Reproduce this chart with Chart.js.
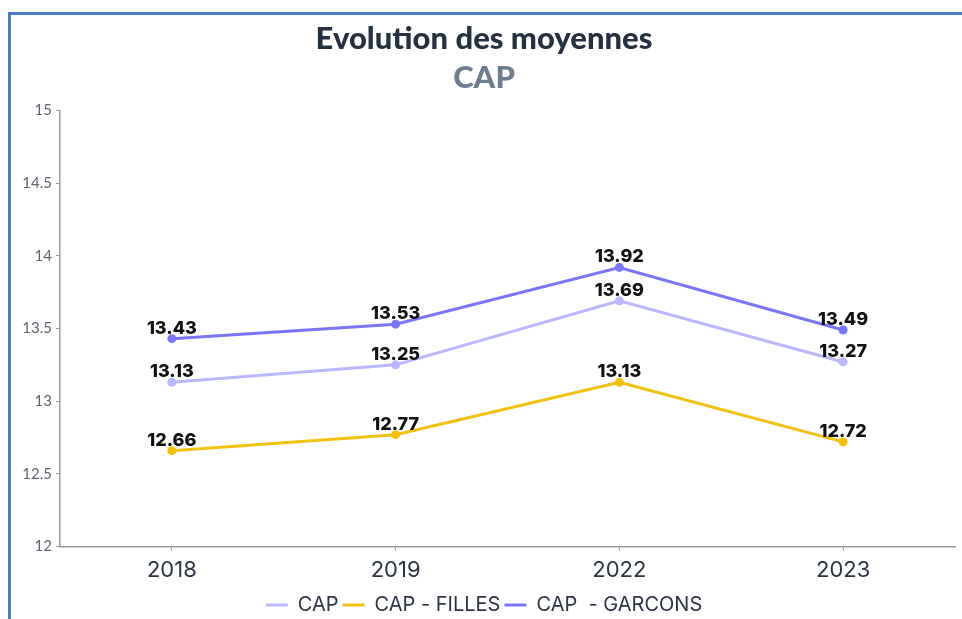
<!DOCTYPE html>
<html>
<head>
<meta charset="utf-8">
<script src="https://cdn.jsdelivr.net/npm/chart.js@4"></script>
<style>
  html,body{margin:0;padding:0;background:#fff;overflow:hidden;}
  .frame{position:absolute;left:8px;top:12px;width:1000px;height:700px;border-left:3px solid #4a7fc4;border-top:3px solid #4a7fc4;box-sizing:border-box;}
  .wrap{position:absolute;left:10px;top:15px;width:952px;height:610px;}
</style>
</head>
<body>
<div class="frame"></div>
<div class="wrap"><canvas id="chart"></canvas></div>
<script>
/* data */
const years = ['2018','2019','2022','2023'];
const capAll = [13.13, 13.25, 13.69, 13.27];
const capFilles = [12.66, 12.77, 13.13, 12.72];
const capGarcons = [13.43, 13.53, 13.92, 13.49];
const yTicks = [12, 12.5, 13, 13.5, 14, 14.5, 15];

// simple value labels above each point
const pointLabels = {
  id:'pointLabels',
  afterDatasetsDraw(chart){
    const ctx = chart.ctx;
    ctx.save();
    ctx.font = '800 18px Inter, "DejaVu Sans", sans-serif';
    ctx.fillStyle = '#111';
    ctx.textAlign = 'center';
    ctx.textBaseline = 'alphabetic';
    chart.data.datasets.forEach((ds,i)=>{
      chart.getDatasetMeta(i).data.forEach((pt,j)=>{
        ctx.fillText(ds.data[j].toFixed(2), pt.x, pt.y - 5);
      });
    });
    ctx.restore();
  }
};

function line(label, data, color){
  return {label, data, borderColor:color, backgroundColor:color, pointBackgroundColor:color,
    borderWidth:3, pointRadius:3, pointHoverRadius:4, tension:0};
}

new Chart(document.getElementById('chart'), {
  type:'line',
  data:{
    labels: years,
    datasets:[
      line('CAP', capAll, '#bab7ff'),
      line('CAP - FILLES', capFilles, '#f2c10f'),
      line('CAP  - GARCONS', capGarcons, '#7a76f7')
    ]
  },
  options:{
    responsive:true,
    maintainAspectRatio:false,
    animation:false,
    layout:{padding:{left:0,right:4,top:3,bottom:0}},
    plugins:{
      title:{display:true, text:'Evolution des moyennes', color:'#26313f',
        font:{family:'Lato, "DejaVu Sans", sans-serif', size:31, weight:'900'}, padding:{top:2,bottom:2}},
      subtitle:{display:true, text:'CAP', color:'#6f7b8f',
        font:{family:'Lato, "DejaVu Sans", sans-serif', size:31, weight:'900'}, padding:{top:0,bottom:14}},
      legend:{position:'bottom',
        labels:{boxWidth:22, boxHeight:3, padding:4,
          color:'#2b3543', font:{family:'Inter, "DejaVu Sans", sans-serif', size:20},
          generateLabels: chart => Chart.defaults.plugins.legend.labels.generateLabels(chart)
            .map(l => Object.assign(l, {lineWidth:0}))}},
      tooltip:{enabled:false}
    },
    scales:{
      x:{
        offset:true,
        grid:{display:true, drawOnChartArea:false, tickLength:4, color:'#999'},
        border:{color:'#999', width:1.5},
        ticks:{color:'#2b3543', padding:7, font:{family:'Inter, "DejaVu Sans", sans-serif', size:22}}
      },
      y:{
        min:12, max:15,
        afterBuildTicks: s => { s.ticks = yTicks.map(v => ({value:v})); },
        afterFit: s => { s.width = 50; },
        grid:{display:true, drawOnChartArea:false, tickLength:4, color:'#999'},
        border:{color:'#999', width:1.5},
        ticks:{color:'#5d6570', padding:4, font:{family:'Lato, "DejaVu Sans", sans-serif', size:15},
          callback: v => String(v)}
      }
    }
  },
  plugins:[pointLabels]
});
</script>
</body>
</html>
